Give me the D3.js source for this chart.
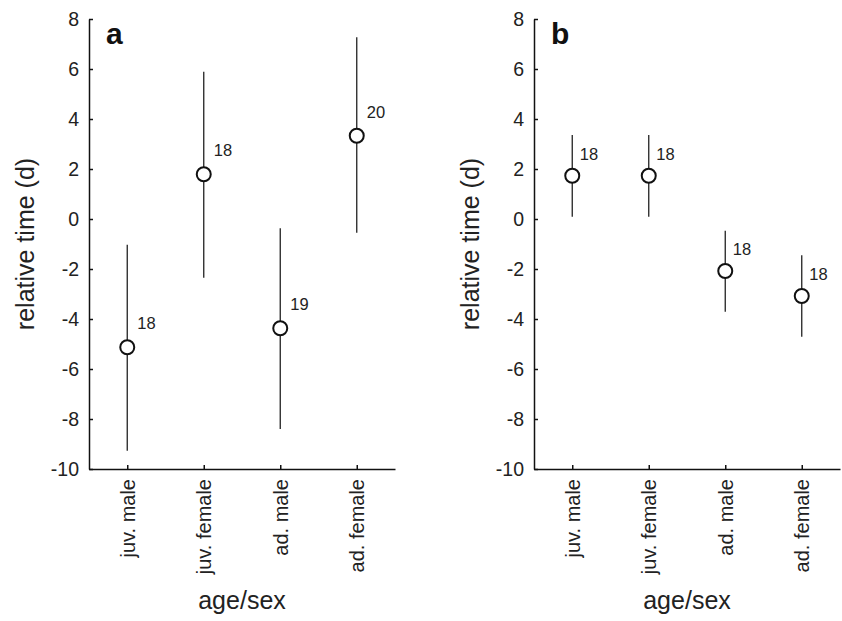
<!DOCTYPE html>
<html>
<head>
<meta charset="utf-8">
<script src="https://cdn.jsdelivr.net/npm/d3@7"></script>
<style>
  body { margin: 0; background: #fff; }
  svg { display: block; font-family: "Liberation Sans", Arial, sans-serif; }
</style>
</head>
<body>
<div id="chart-area"></div>
<script>
// data
const categories = ["juv. male", "juv. female", "ad. male", "ad. female"];
const yTicks = [-10, -8, -6, -4, -2, 0, 2, 4, 6, 8];

const aMean = [-5.13, 1.79, -4.37, 3.33];
const aLow  = [-9.27, -2.35, -8.40, -0.55];
const aHigh = [-1.03, 5.89, -0.37, 7.27];
const aN    = [18, 18, 19, 20];

const bMean = [1.73, 1.73, -2.08, -3.08];
const bLow  = [0.09, 0.09, -3.71, -4.71];
const bHigh = [3.36, 3.36, -0.47, -1.45];
const bN    = [18, 18, 18, 18];

const W = 842, H = 621;
const yTop = 19, yBottom = 469;
const plotW = 306;

const svg = d3.select("#chart-area")
  .append("svg")
  .attr("width", W)
  .attr("height", H);

const y = d3.scaleLinear().domain([-10, 8]).range([yBottom, yTop]);

function panel(left, letter, mean, low, high, ns, lab) {
  const g = svg.append("g").attr("transform", `translate(${left},0)`);
  const x = d3.scalePoint().domain(categories).range([0, plotW]).padding(0.5);

  const rows = categories.map((c, i) => ({ c, m: mean[i], lo: low[i], hi: high[i], n: ns[i] }));

  // y axis (plain hyphen minus like the original)
  const ya = g.append("g")
    .call(d3.axisLeft(y).tickValues(yTicks).tickFormat(d => String(d))
      .tickSize(-4).tickSizeOuter(0).tickPadding(10))
    .attr("font-family", null)
    .attr("font-size", null);
  ya.selectAll("text").style("font-size", "19.5px").attr("fill", "#222");

  // x axis
  const xa = g.append("g")
    .attr("transform", `translate(0,${yBottom})`)
    .call(d3.axisBottom(x).tickSize(-4).tickSizeOuter(0))
    .attr("font-family", null)
    .attr("font-size", null);
  xa.selectAll("text")
    .style("font-size", "20px")
    .attr("fill", "#222")
    .attr("transform", "rotate(-90)")
    .attr("text-anchor", "end")
    .attr("x", -10)
    .attr("y", 0)
    .attr("dy", "0.35em");

  svg.selectAll(".domain, .tick line").attr("stroke", "#111").attr("stroke-width", 1.5);

  // error bars
  g.selectAll(".err")
    .data(rows)
    .enter()
    .append("line")
    .attr("class", "err")
    .attr("x1", d => x(d.c))
    .attr("x2", d => x(d.c))
    .attr("y1", d => y(d.lo))
    .attr("y2", d => y(d.hi))
    .attr("stroke", "#222")
    .attr("stroke-width", 1.3);

  g.selectAll(".pt")
    .data(rows)
    .enter()
    .append("circle")
    .attr("class", "pt")
    .attr("cx", d => x(d.c))
    .attr("cy", d => y(d.m))
    .attr("r", 7)
    .attr("fill", "#fff")
    .attr("stroke", "#111")
    .attr("stroke-width", 2);

  // sample sizes
  g.selectAll(".n")
    .data(rows)
    .enter()
    .append("text")
    .attr("class", "n")
    .attr("x", d => x(d.c) + lab.dx)
    .attr("y", d => y(d.m) + lab.dy)
    .style("font-size", "16.5px")
    .attr("fill", "#222")
    .text(d => d.n);

  // titles
  g.append("text")
    .attr("transform", `translate(${-55},${(yTop + yBottom) / 2}) rotate(-90)`)
    .attr("text-anchor", "middle")
    .style("font-size", "25px")
    .attr("fill", "#222")
    .text("relative time (d)");

  g.append("text")
    .attr("x", plotW / 2)
    .attr("y", 609)
    .attr("text-anchor", "middle")
    .style("font-size", "25px")
    .attr("fill", "#222")
    .text("age/sex");

  g.append("text")
    .attr("x", 17)
    .attr("y", 44)
    .style("font-size", "30px")
    .style("font-weight", "bold")
    .attr("fill", "#111")
    .text(letter);
}

panel(89, "a", aMean, aLow, aHigh, aN, { dx: 10, dy: -18 });
panel(534, "b", bMean, bLow, bHigh, bN, { dx: 7.5, dy: -16 });
</script>
</body>
</html>
